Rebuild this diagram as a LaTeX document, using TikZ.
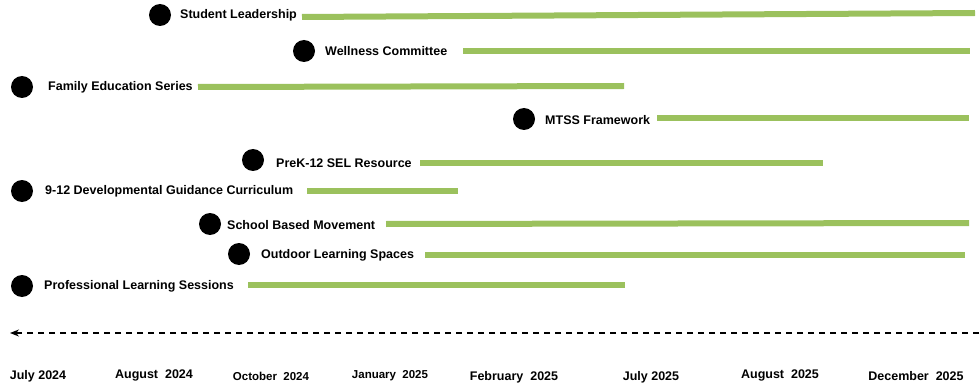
\documentclass[tikz,border=0pt]{standalone}
\usepackage{fontspec}
\setmainfont{Liberation Sans}
\usetikzlibrary{arrows.meta}
\definecolor{bargreen}{RGB}{155,193,93}
\begin{document}
\begin{tikzpicture}[x=1pt,y=-1pt,
  dot/.style={circle,fill=black,inner sep=0pt,minimum size=22pt},
  task/.style={anchor=west,inner sep=0pt,font=\fontsize{12.5}{14}\selectfont\bfseries},
  bar/.style={draw=bargreen,line width=6pt},
  month/.style={inner sep=0pt,font=\fontsize{12.5}{14}\selectfont\bfseries},
  smallmonth/.style={inner sep=0pt,font=\fontsize{11.5}{13}\selectfont\bfseries},
  axis/.style={dashed,dash pattern=on 6pt off 5pt,line width=1.2pt,-{Stealth[length=9pt,width=7pt]}}]
\useasboundingbox (0,0) rectangle (980,385);

% activities: start dot, label, duration bar
\node[dot] (d1) at (160,15) {};
\node[task] (t1) at (180,15) {Student Leadership};
\coordinate (s1) at (302,17); \coordinate (e1) at (975,13);
\draw[bar] (s1) -- (e1);

\node[dot] (d2) at (304,51) {};
\node[task] (t2) at (325,51) {Wellness Committee};
\coordinate (s2) at (463,51); \coordinate (e2) at (970,51);
\draw[bar] (s2) -- (e2);

\node[dot] (d3) at (22,87) {};
\node[task] (t3) at (48,87) {Family Education Series};
\coordinate (s3) at (198,87); \coordinate (e3) at (624,86);
\draw[bar] (s3) -- (e3);

\node[dot] (d4) at (524,119) {};
\node[task] (t4) at (545,120) {MTSS Framework};
\coordinate (s4) at (657,118); \coordinate (e4) at (969,118);
\draw[bar] (s4) -- (e4);

\node[dot] (d5) at (253,160) {};
\node[task] (t5) at (276,163) {PreK-12 SEL Resource};
\coordinate (s5) at (420,163); \coordinate (e5) at (823,163);
\draw[bar] (s5) -- (e5);

\node[dot] (d6) at (22,191) {};
\node[task] (t6) at (45,191) {9-12 Developmental Guidance Curriculum};
\coordinate (s6) at (307,191); \coordinate (e6) at (458,191);
\draw[bar] (s6) -- (e6);

\node[dot] (d7) at (210,224) {};
\node[task] (t7) at (227,225) {School Based Movement};
\coordinate (s7) at (386,224); \coordinate (e7) at (969,223);
\draw[bar] (s7) -- (e7);

\node[dot] (d8) at (239,254) {};
\node[task] (t8) at (261,255) {Outdoor Learning Spaces};
\coordinate (s8) at (425,255); \coordinate (e8) at (965,255);
\draw[bar] (s8) -- (e8);

\node[dot] (d9) at (22,286) {};
\node[task] (t9) at (44,286) {Professional Learning Sessions};
\coordinate (s9) at (248,285); \coordinate (e9) at (625,285);
\draw[bar] (s9) -- (e9);

% time axis
\coordinate (ax1) at (979,333);
\coordinate (ax0) at (10,333);
\draw[axis] (ax1) -- (ax0);

\node[month] (m1) at (38,376) {July 2024};
\node[month] (m2) at (154,375) {August\ \ 2024};
\node[smallmonth] (m3) at (271,376) {October\ \ 2024};
\node[smallmonth] (m4) at (390,376) {January\ \ 2025};
\node[month] (m5) at (514,377) {February\ \ 2025};
\node[month] (m6) at (651,377) {July 2025};
\node[month] (m7) at (780,375) {August\ \ 2025};
\node[month] (m8) at (916,376) {December\ \ 2025};
\end{tikzpicture}
\end{document}
